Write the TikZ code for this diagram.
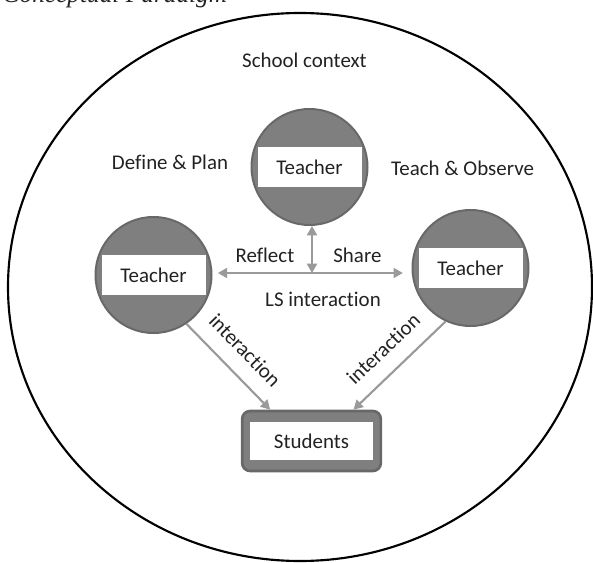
\documentclass[tikz,border=0pt]{standalone}
\usepackage{fontspec}
\setmainfont{Carlito}[Ligatures={NoCommon,NoRare}]
\newfontfamily\titlefont{Liberation Serif}
\usetikzlibrary{arrows.meta}

\definecolor{disc}{HTML}{7F7F7F}
\definecolor{discline}{HTML}{686868}
\definecolor{flowgray}{HTML}{9A9A9A}
\definecolor{ink}{HTML}{222222}

\begin{document}
\begin{tikzpicture}[x=0.75pt,y=-0.75pt,
    every node/.style={font=\fontsize{15.7}{19}\selectfont,text=ink},
    teacher/.style={circle,fill=disc,draw=discline,line width=1.5pt,
      minimum size=87pt,inner sep=0pt,
      path picture={\fill[white] ([xshift=-39pt,yshift=-15pt]path picture bounding box.center)
        rectangle ([xshift=39pt,yshift=15pt]path picture bounding box.center);}},
    pupils/.style={rectangle,rounded corners=6pt,fill=disc,draw=discline,line width=2pt,
      minimum width=104pt,minimum height=45pt,inner sep=0pt,
      path picture={\fill[white,sharp corners] ([xshift=-46pt,yshift=-14pt]path picture bounding box.center)
        rectangle ([xshift=46pt,yshift=14pt]path picture bounding box.center);}},
    flow/.style={draw=flowgray,line width=1.6pt},
    >={Triangle[length=7pt,width=7.5pt]}]
  \useasboundingbox (0,0) rectangle (593,563);

  \node[anchor=base west,font=\titlefont\fontsize{19}{23}\selectfont\itshape] (0) at (-2,3) {Conceptual Paradigm};
  \draw[line width=1.6pt] (300,287) ellipse [x radius=292, y radius=274];

  \node (1) at (304.5,60) {School context};
  \node[teacher] (2) at (309.5,167) {Teacher};
  \node[teacher] (3) at (153.5,275) {Teacher};
  \node[teacher] (4) at (470.5,268) {Teacher};
  \node[pupils] (5) at (311.5,441) {Students};

  \node (6) at (170,162) {Define \& Plan};
  \node (7) at (462.5,168) {Teach \& Observe};
  \node (8) at (323,299) {LS interaction};

  %% lesson study hub between the three teachers
  \coordinate (h) at (312,273);
  \draw[flow,<->] (h) -- (h |- 2.south);
  \draw[flow,->] (h) -- node[above=4pt] {Reflect} ([xshift=4pt]h -| 3.east);
  \draw[flow,->] (h) -- node[above=4pt] {Share} ([xshift=-6.5pt]h -| 4.west);

  \draw[flow,->] (3.-56) -- node[sloped,above=8pt] {interaction} ([xshift=-31pt]5.north);
  \draw[flow,->] (4.-115) -- node[sloped,above=8pt] {interaction} ([xshift=31.5pt]5.north);
\end{tikzpicture}
\end{document}
